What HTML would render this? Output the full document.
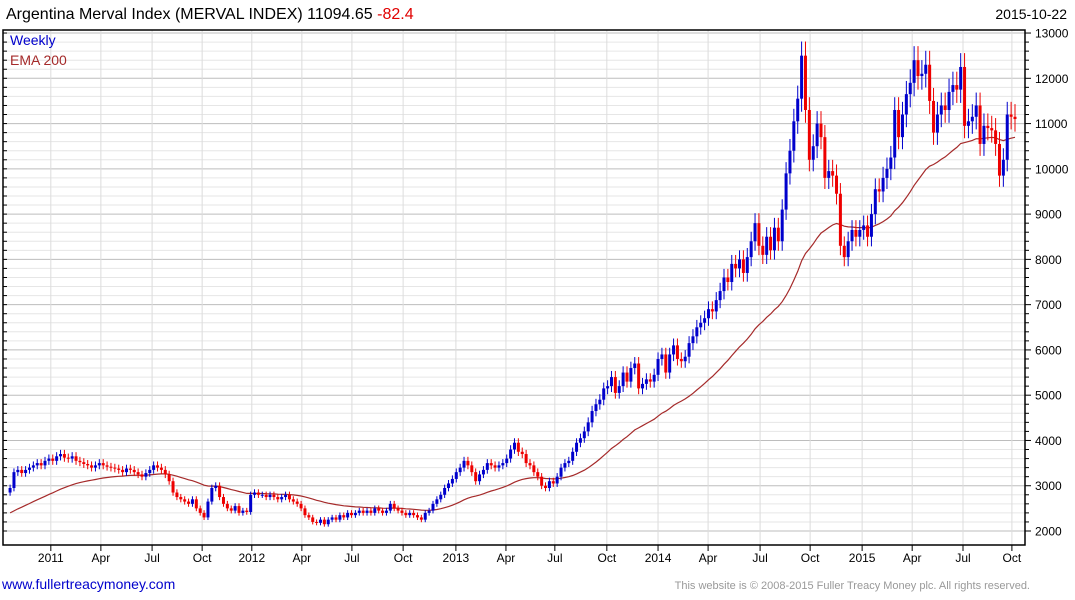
<!DOCTYPE html>
<html><head><meta charset="utf-8">
<style>
html,body{margin:0;padding:0;background:#fff;}
svg{display:block;font-family:"Liberation Sans",Arial,sans-serif;}
</style></head>
<body>
<svg id="chart" width="1075" height="600" viewBox="0 0 1075 600" xmlns="http://www.w3.org/2000/svg">
<text x="6" y="19" font-size="16" fill="#000">Argentina Merval Index (MERVAL INDEX) 11094.65 <tspan fill="#e00000">-82.4</tspan></text>
<text x="1067" y="19" font-size="14" fill="#000" text-anchor="end">2015-10-22</text>
<g id="grid"></g>
<g id="ema"></g>
<g id="candles"></g>
<rect x="3" y="30" width="1022" height="515" fill="none" stroke="#000" stroke-width="1.5"/>
<g id="axes"></g>
<text x="10" y="45" font-size="14" fill="#0000cc">Weekly</text>
<text x="10" y="65" font-size="14" fill="#a52a2a">EMA 200</text>
<text x="2" y="589" font-size="14" fill="#0000cc">www.fullertreacymoney.com</text>
<text x="1030" y="589" font-size="11" fill="#999" text-anchor="end">This website is © 2008-2015 Fuller Treacy Money plc. All rights reserved.</text>
</svg>
<script>
const closes = [
2950,3300,3350,3280,3350,3400,3450,3500,3450,3550,3600,3550,3650,
3700,3620,3600,3650,3550,3520,3480,3450,3400,3450,3500,3450,3420,
3400,3380,3350,3300,3380,3350,3300,3250,3200,3280,3350,3450,3400,
3350,3250,3100,2850,2750,2700,2650,2600,2700,2500,2400,2300,2650,
2950,3000,2750,2600,2500,2450,2550,2400,2450,2420,2800,2850,2800,
2800,2750,2800,2750,2700,2750,2800,2700,2650,2600,2500,2350,2300,
2200,2180,2250,2150,2250,2300,2250,2350,2300,2400,2350,2400,2450,
2400,2450,2400,2500,2450,2400,2450,2600,2500,2450,2400,2350,2400,
2350,2300,2250,2400,2450,2600,2700,2800,2950,
3050,3150,3300,3400,3550,3450,3300,3100,3250,3350,3500,3450,3400,
3450,3500,3600,3800,3950,3750,3700,3500,3450,3300,3200,3000,2950,
3100,3050,3200,3400,3500,3550,3750,3950,4050,4200,4400,4650,4800,
4900,5150,5200,5400,5050,5200,5500,5300,5600,5700,5150,5250,5350,
5300,5450,5800,5900,5500,5900,6100,5800,5750,5850,6150,6300,6500,
6600,6700,6900,6850,7100,7300,7600,7500,7900,7800,8000,7700,8050,
8400,8800,8300,8100,8500,8200,8700,8400,9100,9900,10400,11050,11550,12500,11300,10200,10500,
11000,10700,9800,9950,9850,9450,8300,8050,8400,8650,8500,8650,8750,8500,9000,9550,9500,9800,
10000,10250,11300,10700,11200,11650,11900,12400,12050,12100,12300,11500,10800,11200,11400,11300,
11700,11850,11750,12250,10950,11050,11150,11400,10550,10950,10900,10850,10550,9850,10200,11200,11150,11100
];
const yTicks = [2000,3000,4000,5000,6000,7000,8000,9000,10000,11000,12000,13000];
const xLabels = ["2011","Apr","Jul","Oct","2012","Apr","Jul","Oct","2013","Apr","Jul","Oct","2014","Apr","Jul","Oct","2015","Apr","Jul","Oct"];
const xLabelWeeks = [10.5,23.4,36.6,49.5,62.3,75.2,88.1,101.3,114.9,127.8,140.4,153.8,167,179.9,193.3,206.2,219.6,232.5,245.6,258.2];

const NS="http://www.w3.org/2000/svg";
const N=closes.length, xEnd=1015, step=3.88;
function xOf(i){return xEnd-(N-1-i)*step;}
function yOf(p){return 531-(p-2000)*0.04527;}
function mk(tag,attrs,parent){const e=document.createElementNS(NS,tag);for(const k in attrs)e.setAttribute(k,attrs[k]);parent.appendChild(e);return e;}
const grid=document.getElementById('grid'),axes=document.getElementById('axes'),cg=document.getElementById('candles'),eg=document.getElementById('ema');

for(let p=2000;p<=13000;p+=200){
  const y=yOf(p), major=p%1000===0;
  const l=mk('line',{x1:3,x2:1025,y1:y,y2:y,stroke:major?'#bdbdbd':'#e6e6e6','stroke-width':1},grid);
  
  
  const t=mk('line',{x1:1025,x2:major?1031:1029,y1:y,y2:y,stroke:'#000'},axes);
  
  
  const t2=mk('line',{x1:3,x2:7,y1:y,y2:y,stroke:'#000'},axes);
  
  
}
yTicks.forEach(v=>{
  const t=mk('text',{x:1035,y:yOf(v)+4.5,'font-size':12,fill:'#000'},axes);
  t.textContent=v;
  
  
});
xLabels.forEach((lab,k)=>{
  const x=xOf(xLabelWeeks[k]);
  const g=mk('line',{x1:x,x2:x,y1:30,y2:545,stroke:'#dcdcdc'},grid);
  
  
  const t=mk('line',{x1:x,x2:x,y1:545,y2:551,stroke:'#000'},axes);
  
  
  const tx=mk('text',{x:x,y:562,'font-size':12,'text-anchor':'middle',fill:'#000'},axes);
  tx.textContent=lab;
  
  
});

let ema=2400;const k=2/41;let pts=[];
for(let i=0;i<N;i++){ if(i>0) ema=closes[i]*k+ema*(1-k); pts.push(xOf(i).toFixed(1)+','+yOf(ema).toFixed(1)); }
const pl=mk('polyline',{points:pts.join(' '),fill:'none',stroke:'#a52a2a','stroke-width':1.2},eg);



for(let i=0;i<N;i++){
  const c=closes[i], o=i>0?closes[i-1]:c-100;
  const up=c>=o, col=up?'#0000cc':'#ee0000';
  const hi=Math.max(o,c)*1.025, lo=Math.min(o,c)*0.975;
  const x=xOf(i);
  const w=mk('line',{x1:x,x2:x,y1:yOf(hi),y2:yOf(lo),stroke:col,'stroke-width':1},cg);
  
  
  const yt=yOf(Math.max(o,c)), yb=yOf(Math.min(o,c));
  const r=mk('rect',{x:x-1.5,y:yt,width:3,height:Math.max(1,yb-yt),fill:col},cg);
  
  
}
</script>
</body></html>
